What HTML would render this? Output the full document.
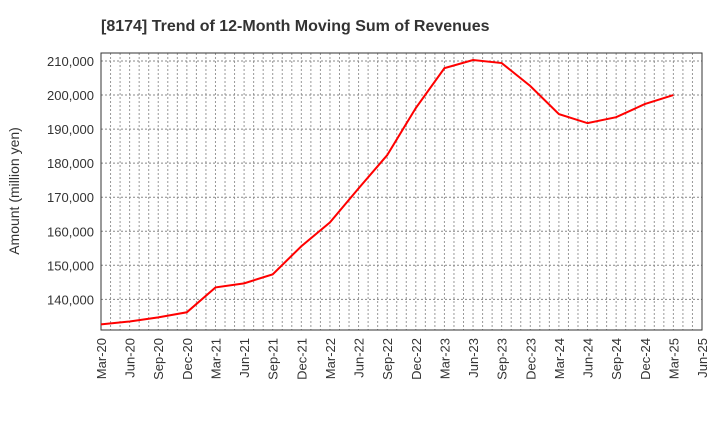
<!DOCTYPE html>
<html><head><meta charset="utf-8"><style>
body{margin:0;background:#fff;}
svg text{font-family:"Liberation Sans",Arial,sans-serif;fill:#333;}
</style></head><body>
<svg id="chart" width="720" height="440" xmlns="http://www.w3.org/2000/svg">
<text x="101" y="31" font-size="16" font-weight="bold" style="fill:#333">[8174]  Trend of 12-Month Moving Sum of Revenues</text>
<text transform="translate(19,191) rotate(-90)" text-anchor="middle" font-size="14">Amount (million yen)</text>
<g id="grid"></g><g id="axes"></g><g id="series"></g>
</svg>
<script>
const categories=["Mar-20","Jun-20","Sep-20","Dec-20","Mar-21","Jun-21","Sep-21","Dec-21","Mar-22","Jun-22","Sep-22","Dec-22","Mar-23","Jun-23","Sep-23","Dec-23","Mar-24","Jun-24","Sep-24","Dec-24","Mar-25","Jun-25"];
const revenues=[132650,133500,134700,136200,143500,144700,147350,155600,162600,172600,182350,196200,207900,210300,209400,202650,194400,191750,193500,197350,200000];
const yTicks=[140000,150000,160000,170000,180000,190000,200000,210000];
const yTickLabels=["140,000","150,000","160,000","170,000","180,000","190,000","200,000","210,000"];
const NS="http://www.w3.org/2000/svg";
const L=101,R=702,T=53,B=330,yMin=131000,yMax=212350;
const x=i=>L+(R-L)*i/(categories.length-1);
const xm=m=>L+(R-L)*m/((categories.length-1)*3);
const y=v=>B-(v-yMin)/(yMax-yMin)*(B-T);
function mk(tag,attrs,parent){const e=document.createElementNS(NS,tag);for(const k in attrs)e.setAttribute(k,attrs[k]);parent.appendChild(e);return e;}
const grid=document.getElementById('grid'),axes=document.getElementById('axes'),series=document.getElementById('series');
for(let m=1;m<(categories.length-1)*3;m++){const l=mk('line',{x1:xm(m),x2:xm(m),y1:T,y2:B,stroke:'#999','stroke-width':1,'stroke-dasharray':'2,2'},grid);

}
yTicks.forEach((v,i)=>{const l=mk('line',{x1:L,x2:R,y1:y(v),y2:y(v),stroke:'#888','stroke-width':1,'stroke-dasharray':'2,2'},grid);


const t=mk('text',{x:L-7,y:y(v)+5,'text-anchor':'end','font-size':13},axes);t.textContent=yTickLabels[i];

});
categories.forEach((c,i)=>{const t=mk('text',{transform:`translate(${x(i)+5},${B+8}) rotate(-90)`,'text-anchor':'end','font-size':13},axes);t.textContent=c;

});
const frame=mk('rect',{x:L,y:T,width:R-L,height:B-T,fill:'none',stroke:'#333','stroke-width':1},axes);


const p=mk('polyline',{points:revenues.map((v,i)=>x(i)+','+y(v)).join(' '),fill:'none',stroke:'#f00','stroke-width':2},series);


</script>
</body></html>
